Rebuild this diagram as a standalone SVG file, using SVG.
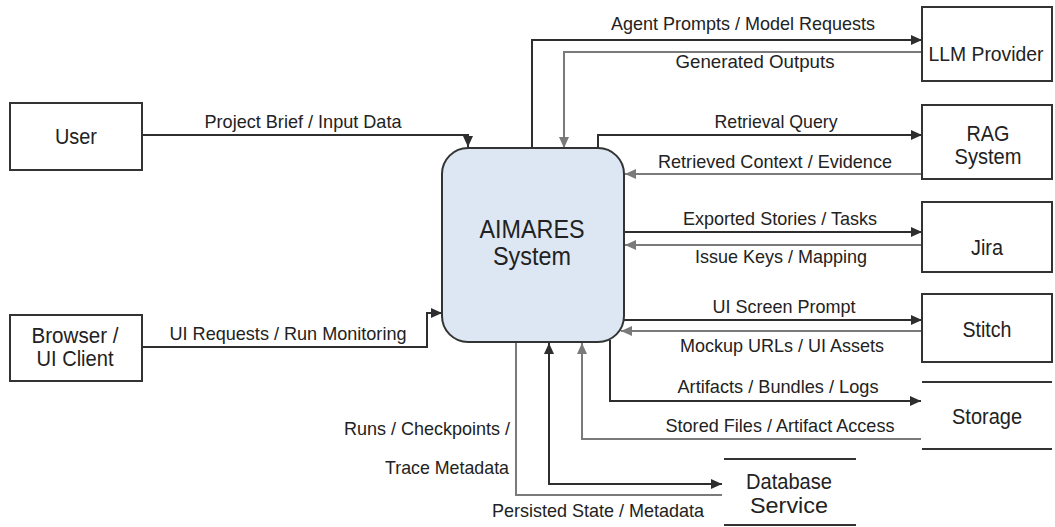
<svg xmlns="http://www.w3.org/2000/svg" width="1055" height="527" viewBox="0 0 1055 527">
  <style>
    .box { fill: #ffffff; stroke: #333333; stroke-width: 2; }
    .core { fill: #dde7f3; stroke: #333333; stroke-width: 2; }
    .store { stroke: #333333; stroke-width: 2; }
    .node-label { font-family: "Liberation Sans", Arial, sans-serif; font-size: 22px; fill: #222222; text-anchor: middle; }
    .node-label.wide { font-size: 20px; }
    .core-label { font-family: "Liberation Sans", Arial, sans-serif; font-size: 25px; fill: #222222; text-anchor: middle; }
    .edge-label { font-family: "Liberation Sans", Arial, sans-serif; font-size: 19px; fill: #222222; text-anchor: middle; }
    .edge-label-r { font-family: "Liberation Sans", Arial, sans-serif; font-size: 19px; fill: #222222; text-anchor: end; }
    .flow { fill: none; stroke: #2e2e2e; stroke-width: 2; }
    .back { fill: none; stroke: #7a7a7a; stroke-width: 2; }
  </style>
  <defs>
    <marker id="arrowDark" markerUnits="userSpaceOnUse" markerWidth="12" markerHeight="10" refX="11" refY="5" orient="auto-start-reverse">
      <path d="M0,0 L11,5 L0,10 z" fill="#2e2e2e"/>
    </marker>
    <marker id="arrowGray" markerUnits="userSpaceOnUse" markerWidth="12" markerHeight="10" refX="11" refY="5" orient="auto">
      <path d="M0,0 L11,5 L0,10 z" fill="#7a7a7a"/>
    </marker>
  </defs>

  <rect width="1055" height="527" fill="#ffffff"/>

  <!-- connectors -->
  <g id="connectors">
    <path class="flow" d="M142,135 H468 V147" marker-end="url(#arrowDark)"/>
    <path class="flow" d="M142,347 H427 V313 H442" marker-end="url(#arrowDark)"/>
    <path class="flow" d="M532,148 V40 H922" marker-end="url(#arrowDark)"/>
    <path class="back" d="M922,52 H564 V148" marker-end="url(#arrowGray)"/>
    <path class="flow" d="M598,148 V135 H922" marker-end="url(#arrowDark)"/>
    <path class="back" d="M922,174 H625" marker-end="url(#arrowGray)"/>
    <path class="flow" d="M624,232 H922" marker-end="url(#arrowDark)"/>
    <path class="back" d="M922,245 H625" marker-end="url(#arrowGray)"/>
    <path class="flow" d="M623,320 H922" marker-end="url(#arrowDark)"/>
    <path class="back" d="M922,331 H621" marker-end="url(#arrowGray)"/>
    <path class="flow" d="M610,340 V401 H921" marker-end="url(#arrowDark)"/>
    <path class="back" d="M921,439 H582 V343" marker-end="url(#arrowGray)"/>
    <path class="flow" d="M549,343 V484 H722" marker-start="url(#arrowDark)" marker-end="url(#arrowDark)"/>
    <path class="back" d="M722,495 H516 V342"/>

    <text class="edge-label" x="303" y="128" textLength="197" lengthAdjust="spacingAndGlyphs">Project Brief / Input Data</text>
    <text class="edge-label" x="288" y="340" textLength="237" lengthAdjust="spacingAndGlyphs">UI Requests / Run Monitoring</text>
    <text class="edge-label" x="743" y="30" textLength="264" lengthAdjust="spacingAndGlyphs">Agent Prompts / Model Requests</text>
    <text class="edge-label" x="755" y="68" textLength="159" lengthAdjust="spacingAndGlyphs">Generated Outputs</text>
    <text class="edge-label" x="776" y="128" textLength="123" lengthAdjust="spacingAndGlyphs">Retrieval Query</text>
    <text class="edge-label" x="775" y="168" textLength="234" lengthAdjust="spacingAndGlyphs">Retrieved Context / Evidence</text>
    <text class="edge-label" x="780" y="225" textLength="194" lengthAdjust="spacingAndGlyphs">Exported Stories / Tasks</text>
    <text class="edge-label" x="781" y="263" textLength="172" lengthAdjust="spacingAndGlyphs">Issue Keys / Mapping</text>
    <text class="edge-label" x="784" y="313" textLength="143" lengthAdjust="spacingAndGlyphs">UI Screen Prompt</text>
    <text class="edge-label" x="782" y="352" textLength="204" lengthAdjust="spacingAndGlyphs">Mockup URLs / UI Assets</text>
    <text class="edge-label" x="778" y="393" textLength="201" lengthAdjust="spacingAndGlyphs">Artifacts / Bundles / Logs</text>
    <text class="edge-label" x="780" y="432" textLength="229" lengthAdjust="spacingAndGlyphs">Stored Files / Artifact Access</text>
    <text class="edge-label-r" x="510" y="435" textLength="166" lengthAdjust="spacingAndGlyphs">Runs / Checkpoints /</text>
    <text class="edge-label-r" x="509" y="474" textLength="124" lengthAdjust="spacingAndGlyphs">Trace Metadata</text>
    <text class="edge-label" x="598" y="517" textLength="212" lengthAdjust="spacingAndGlyphs">Persisted State / Metadata</text>
  </g>

  <!-- central system -->
  <g id="aimares">
    <rect class="core" x="442" y="148" width="182" height="194" rx="26" ry="26"/>
    <text class="core-label" x="532" y="238" textLength="105" lengthAdjust="spacingAndGlyphs">AIMARES</text>
    <text class="core-label" x="532" y="265" textLength="78" lengthAdjust="spacingAndGlyphs">System</text>
  </g>

  <g id="user">
    <rect class="box" x="10" y="103" width="132" height="67"/>
    <text class="node-label" x="76" y="144" textLength="42" lengthAdjust="spacingAndGlyphs">User</text>
  </g>

  <g id="browser">
    <rect class="box" x="10" y="315" width="132" height="66"/>
    <text class="node-label" x="75" y="343" textLength="87" lengthAdjust="spacingAndGlyphs">Browser /</text>
    <text class="node-label" x="75" y="366" textLength="77" lengthAdjust="spacingAndGlyphs">UI Client</text>
  </g>

  <g id="llm">
    <rect class="box" x="922" y="7" width="130" height="74"/>
    <text class="node-label wide" x="986" y="61" textLength="115" lengthAdjust="spacingAndGlyphs">LLM Provider</text>
  </g>

  <g id="rag">
    <rect class="box" x="922" y="105" width="130" height="74"/>
    <text class="node-label" x="988" y="141" textLength="43" lengthAdjust="spacingAndGlyphs">RAG</text>
    <text class="node-label" x="988" y="164" textLength="67" lengthAdjust="spacingAndGlyphs">System</text>
  </g>

  <g id="jira">
    <rect class="box" x="922" y="202" width="130" height="70"/>
    <text class="node-label" x="987" y="255" textLength="32" lengthAdjust="spacingAndGlyphs">Jira</text>
  </g>

  <g id="stitch">
    <rect class="box" x="922" y="294" width="130" height="68"/>
    <text class="node-label" x="987" y="337" textLength="49" lengthAdjust="spacingAndGlyphs">Stitch</text>
  </g>

  <g id="storage">
    <line class="store" x1="922" y1="382" x2="1052" y2="382"/>
    <line class="store" x1="922" y1="449" x2="1052" y2="449"/>
    <text class="node-label" x="987" y="424" textLength="70" lengthAdjust="spacingAndGlyphs">Storage</text>
  </g>

  <g id="database">
    <line class="store" x1="724" y1="459" x2="856" y2="459"/>
    <line class="store" x1="724" y1="525" x2="856" y2="525"/>
    <text class="node-label" x="789" y="489" textLength="86" lengthAdjust="spacingAndGlyphs">Database</text>
    <text class="node-label" x="789" y="513" textLength="78" lengthAdjust="spacingAndGlyphs">Service</text>
  </g>
</svg>
